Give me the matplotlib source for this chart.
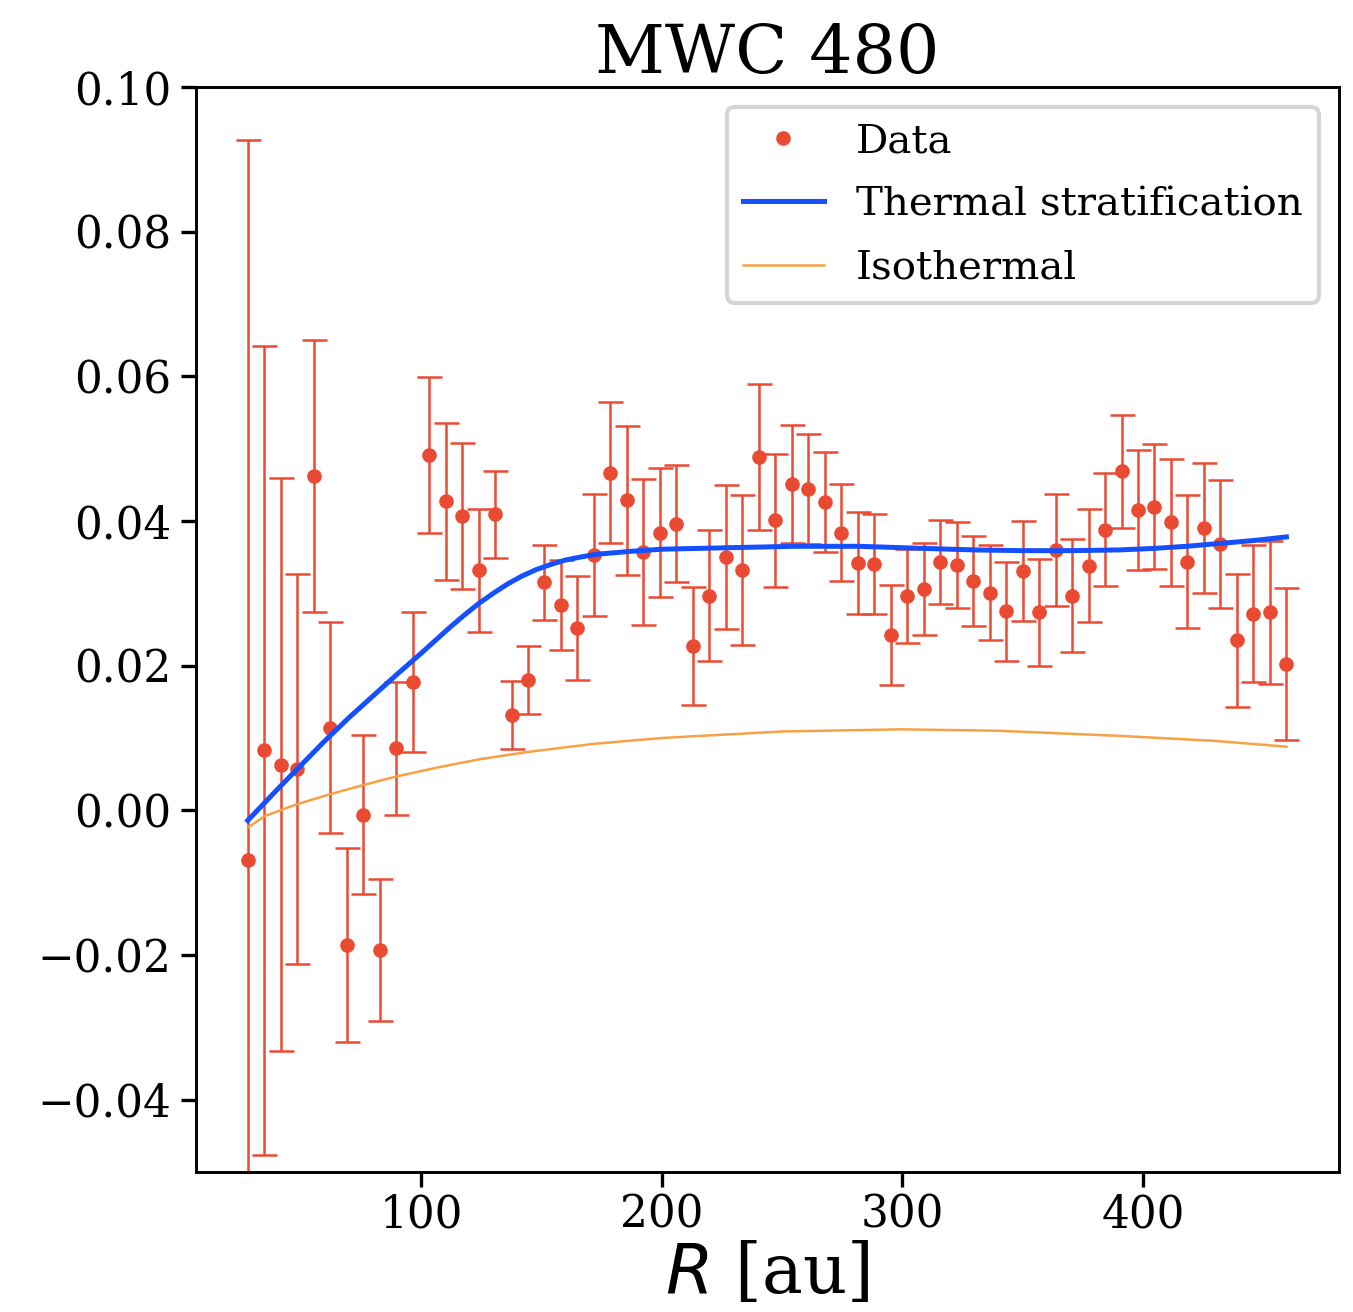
import numpy as np
import matplotlib
matplotlib.use("Agg")
import matplotlib.pyplot as plt

plt.rcParams['font.family'] = 'serif'
plt.rcParams['font.serif'] = ['DejaVu Serif']

# radial bins [au]
R = [28.0, 34.9, 41.7, 48.6, 55.4, 62.3, 69.1, 76.0, 82.8, 89.7,
     96.5, 103.4, 110.2, 117.1, 123.9, 130.8, 137.6, 144.5, 151.3, 158.2,
     165.0, 171.9, 178.7, 185.6, 192.4, 199.3, 206.1, 213.0, 219.8, 226.7,
     233.5, 240.4, 247.2, 254.1, 260.9, 267.8, 274.6, 281.5, 288.3, 295.2,
     302.0, 308.9, 315.7, 322.6, 329.4, 336.3, 343.1, 350.0, 356.8, 363.7,
     370.5, 377.4, 384.2, 391.1, 397.9, 404.8, 411.6, 418.5, 425.3, 432.2,
     439.0, 445.9, 452.7, 459.6]

data = [-0.0068, 0.0083, 0.0063, 0.0057, 0.0462, 0.0114, -0.0186, -0.0006, -0.0193, 0.0086,
        0.0177, 0.0491, 0.0427, 0.0407, 0.0332, 0.0409, 0.0132, 0.0180, 0.0315, 0.0284,
        0.0252, 0.0353, 0.0467, 0.0429, 0.0357, 0.0384, 0.0396, 0.0227, 0.0297, 0.0350,
        0.0332, 0.0489, 0.0401, 0.0451, 0.0444, 0.0426, 0.0384, 0.0342, 0.0341, 0.0242,
        0.0296, 0.0306, 0.0343, 0.0339, 0.0317, 0.0301, 0.0275, 0.0331, 0.0274, 0.0360,
        0.0297, 0.0338, 0.0388, 0.0469, 0.0415, 0.0420, 0.0398, 0.0344, 0.0390, 0.0368,
        0.0235, 0.0272, 0.0274, 0.0202]

err = [0.0995, 0.0559, 0.0396, 0.0270, 0.0188, 0.0146, 0.0134, 0.0110, 0.0098, 0.0092,
       0.0097, 0.0108, 0.0109, 0.0101, 0.0085, 0.0060, 0.0047, 0.0047, 0.0052, 0.0062,
       0.0072, 0.0085, 0.0098, 0.0103, 0.0101, 0.0089, 0.0081, 0.0082, 0.0090, 0.0100,
       0.0104, 0.0101, 0.0092, 0.0082, 0.0076, 0.0069, 0.0067, 0.0070, 0.0069, 0.0069,
       0.0065, 0.0064, 0.0058, 0.0059, 0.0062, 0.0066, 0.0068, 0.0069, 0.0074, 0.0078,
       0.0078, 0.0078, 0.0078, 0.0078, 0.0083, 0.0087, 0.0088, 0.0092, 0.0090, 0.0088,
       0.0092, 0.0095, 0.0099, 0.0105]

# model: thermal stratification
R_strat = [28.0, 40.0, 50.0, 60.0, 70.0, 80.0, 90.0, 100.0, 106.0, 112.0,
           118.0, 124.0, 130.0, 136.0, 142.0, 148.0, 154.0, 160.0, 166.0, 173.0,
           180.0, 187.0, 200.0, 227.0, 255.0, 282.0, 310.0, 330.0, 350.0, 370.0,
           390.0, 404.0, 418.0, 432.0, 446.0, 459.6]
strat = [-0.0014, 0.0028, 0.0062, 0.0096, 0.0128, 0.0158, 0.0188, 0.0217, 0.0235, 0.0253,
         0.0270, 0.0286, 0.0300, 0.0313, 0.0324, 0.0333, 0.0340, 0.0346, 0.0350, 0.0354,
         0.0356, 0.0358, 0.0361, 0.0363, 0.0365, 0.0365, 0.0362, 0.0360, 0.0359, 0.0359,
         0.0360, 0.0362, 0.0365, 0.0369, 0.0373, 0.0378]

# model: isothermal
R_iso = [28.0, 35.0, 48.0, 62.0, 76.0, 90.0, 108.0, 125.0, 145.0, 172.0,
         200.0, 250.0, 300.0, 340.0, 390.0, 430.0, 459.6]
iso = [-0.0024, -0.0008, 0.0008, 0.0022, 0.0035, 0.0047, 0.0060, 0.0071, 0.0081, 0.0092,
       0.0100, 0.0109, 0.0112, 0.0110, 0.0103, 0.0096, 0.0088]

red = '#ea4a32'
fig = plt.figure(figsize=(1353 / 300, 1312 / 300), dpi=300)
ax = fig.add_axes([0.1449, 0.1067, 0.8448, 0.827])

ax.errorbar(R, data, yerr=err, fmt='none', ecolor=red, elinewidth=0.6,
            capsize=3, capthick=0.6)
ax.plot(R, data, '.', color=red, ms=5, label='Data')
ax.plot(R_strat, strat, color='#1450ff', lw=1.2, label='Thermal stratification')
ax.plot(R_iso, iso, color='#f7a046', lw=0.6, label='Isothermal')

ax.set_xlim(6.5, 481.5)
ax.set_ylim(-0.05, 0.10)
ax.set_xticks([100, 200, 300, 400])
ax.set_yticks([-0.04, -0.02, 0.0, 0.02, 0.04, 0.06, 0.08, 0.10])
ax.set_yticklabels(['\u22120.04', '\u22120.02', '0.00', '0.02', '0.04', '0.06', '0.08', '0.10'])
ax.tick_params(labelsize=10.5)
ax.tick_params(axis='y', pad=2.5)
ax.tick_params(axis='x', pad=1.5)
for s in ax.spines.values():
    s.set_linewidth(0.7)

ax.set_title('MWC 480', fontsize=16.4, pad=-1)
ax.set_xlabel('$R$ [au]', fontsize=16.5, labelpad=1)

ax.legend(loc='upper right', fontsize=9.7, labelspacing=0.65)

fig.savefig('out.png', dpi=300)
